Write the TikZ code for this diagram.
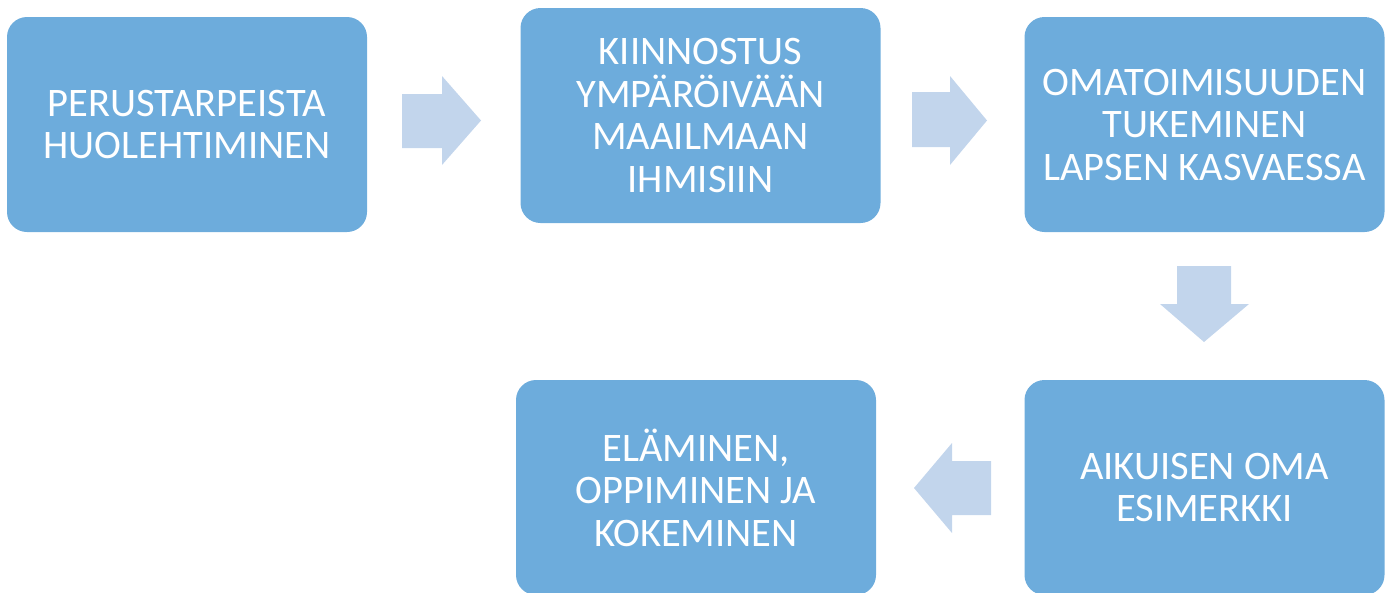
\documentclass[tikz,border=0pt]{standalone}
\usepackage{fontspec}
\setmainfont{Carlito}
\definecolor{boxblue}{HTML}{6DACDC}
\definecolor{arrowblue}{HTML}{C2D5EC}
\begin{document}
\begin{tikzpicture}[x=1pt,y=-1pt,
  stepbox/.style={fill=boxblue, rounded corners=20pt, minimum width=360pt, minimum height=215pt,
    text=white, align=center, inner sep=0pt,
    font=\fontsize{40.5}{42.5}\selectfont},
  blockarrow/.style={fill=arrowblue}]
\useasboundingbox (0,0) rectangle (1389,592);
\node[stepbox] (b1) at (187,124.5) {PERUSTARPEISTA\\HUOLEHTIMINEN};
\node[stepbox] (b2) at (700.5,115.5) {KIINNOSTUS\\YMPÄRÖIVÄÄN\\MAAILMAAN\\IHMISIIN};
\node[stepbox] (b3) at (1204.5,124.5) {OMATOIMISUUDEN\\TUKEMINEN\\LAPSEN KASVAESSA};
\node[stepbox] (b4) at (1204.5,487.5) {AIKUISEN OMA\\ESIMERKKI};
\node[stepbox] (b5) at (696,487.5) {ELÄMINEN,\\OPPIMINEN JA\\KOKEMINEN};
% block arrows
\fill[blockarrow] (402,94) -- (442,94) -- (442,76) -- (481,120.5) -- (442,165) -- (442,148) -- (402,148) -- cycle;
\fill[blockarrow] (912,92) -- (950,92) -- (950,76) -- (987,120.5) -- (950,165) -- (950,147) -- (912,147) -- cycle;
\fill[blockarrow] (1177,266) -- (1231,266) -- (1231,304) -- (1249,304) -- (1204,342) -- (1160,304) -- (1177,304) -- cycle;
\fill[blockarrow] (991,461) -- (952,461) -- (952,443) -- (914,488) -- (952,533) -- (952,515) -- (991,515) -- cycle;
\end{tikzpicture}
\end{document}
